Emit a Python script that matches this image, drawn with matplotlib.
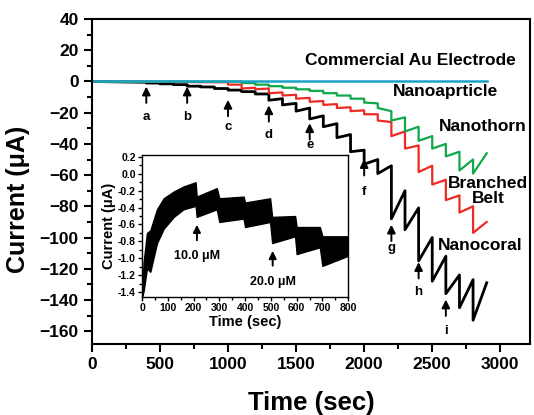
import matplotlib
matplotlib.use('Agg')
import matplotlib.pyplot as plt

plt.rcParams['font.family'] = ['Liberation Sans', 'DejaVu Sans']
plt.rcParams['font.weight'] = 'bold'

# step times (s) with current just before (top) and just after (bottom) each injection, uA
black_t = [400, 500, 600, 700, 800, 900, 1000, 1100, 1200, 1300, 1400, 1500, 1600, 1700,
           1800, 1900, 2000, 2100, 2200, 2300, 2400, 2500, 2600, 2700, 2800]
black_top = [-0.5, -1, -1.5, -2, -3, -3.5, -4.5, -5.5, -6.5, -8, -11, -14, -17, -22,
             -27, -34, -44, -50, -54, -70, -81, -100, -112, -124, -127]
black_bot = [-1, -1.5, -2, -3, -3.5, -4.5, -5.5, -6.5, -8, -12, -15, -19, -24, -29,
             -36, -45, -53, -59, -88, -95, -115, -128, -136, -145, -153]
black_end = -129

red_t = [1000, 1100, 1200, 1300, 1400, 1500, 1600, 1700, 1800, 1900, 2000, 2100,
         2200, 2300, 2400, 2500, 2600, 2700, 2800]
red_top = [-0.5, -2, -4, -4.5, -7, -8.5, -10.5, -12.5, -14.5, -16.5, -18.5, -21,
           -26, -32, -41, -54, -63, -73, -80]
red_bot = [-2, -4.5, -5, -7.5, -9, -11, -13, -15, -17, -19, -21, -25,
           -35, -43, -58, -66, -76, -84, -97]
red_end = -90

green_t = [1100, 1200, 1300, 1400, 1500, 1600, 1700, 1800, 1900, 2000, 2100,
           2200, 2300, 2400, 2500, 2600, 2700, 2800]
green_top = [0, -1, -2, -3, -4, -5, -6, -7.5, -9, -11, -14,
             -19, -23, -29, -35, -40, -45, -50]
green_bot = [-1, -2, -3, -4, -5, -6, -7.5, -9, -11, -13.5, -17,
             -25, -32, -38, -43, -48, -57, -59]
green_end = -46

au_t = [0, 2900]
au_i = [0, 0]
t_end = 2900

arrow_t = [400, 700, 1000, 1300, 1600, 2000, 2200, 2400, 2600]
arrow_tip = [-1.5, -1.5, -10, -13.5, -25, -48, -90, -114, -138]
arrow_lbl = ['a', 'b', 'c', 'd', 'e', 'f', 'g', 'h', 'i']
arrow_lbl_y = [-23, -23, -29, -34, -41, -71, -107, -135, -160]

# inset: envelope of the noisy band
ins_t = [0, 6, 19, 32, 58, 84, 123, 161, 208, 212, 290, 300, 394, 400, 497, 505,
         594, 600, 690, 700, 800]
ins_up = [-1.45, -1.05, -0.70, -0.67, -0.42, -0.29, -0.21, -0.15, -0.10, -0.27, -0.17,
          -0.29, -0.27, -0.34, -0.29, -0.51, -0.50, -0.63, -0.63, -0.74, -0.74]
ins_lo = [-1.45, -1.39, -1.12, -1.16, -0.82, -0.65, -0.51, -0.42, -0.38, -0.51, -0.42,
          -0.57, -0.53, -0.63, -0.57, -0.82, -0.74, -0.95, -0.87, -1.09, -0.97]


def staircase(times, tops, bots, end):
    xs, ys = [0], [0]
    for t, a, b in zip(times, tops, bots):
        xs += [t, t]
        ys += [a, b]
    xs.append(t_end)
    ys.append(end)
    return xs, ys


fig = plt.figure(figsize=(5.34, 4.15), dpi=100)
ax = fig.add_axes([0.172, 0.172, 0.821, 0.782])

x, y = staircase(black_t, black_top, black_bot, black_end)
ax.plot(x, y, color='black', lw=2.0)
x, y = staircase(red_t, red_top, red_bot, red_end)
ax.plot(x, y, color='#ee2a24', lw=1.6)
x, y = staircase(green_t, green_top, green_bot, green_end)
ax.plot(x, y, color='#10a84a', lw=1.6)
ax.plot(au_t, au_i, color='#1aa3c6', lw=1.8)

ax.set_xlim(0, 3220)
ax.set_ylim(-168, 40)
ax.set_xticks(range(0, 3001, 500))
ax.set_xticks(range(0, 3201, 250), minor=True)
ax.set_yticks(range(-160, 41, 20))
ax.set_yticks(range(-160, 41, 10), minor=True)
ax.tick_params(which='both', direction='out', top=False, right=False, width=1.5)
ax.tick_params(which='major', length=6, labelsize=12.5)
ax.tick_params(which='minor', length=3.5)
for s in ax.spines.values():
    s.set_linewidth(1.5)
ax.set_xlabel('Time (sec)', fontsize=18.5, fontweight='bold')
ax.set_ylabel('Current (\u03bcA)', fontsize=18, fontweight='bold')
ax.xaxis.set_label_coords(0.5, -0.145)
ax.yaxis.set_label_coords(-0.14, 0.445)

for t, tip, lbl, ly in zip(arrow_t, arrow_tip, arrow_lbl, arrow_lbl_y):
    ax.annotate('', xy=(t, tip), xytext=(t, tip - 14),
                arrowprops=dict(arrowstyle='-|>', color='black', lw=1.4, mutation_scale=12))
    ax.text(t, ly, lbl, ha='center', va='center', fontsize=9.5, fontweight='bold')

ax.text(2338, 13.5, 'Commercial Au Electrode', ha='center', va='center', fontsize=12.5, fontweight='bold')
ax.text(2596, -6.3, 'Nanoaprticle', ha='center', va='center', fontsize=12.5, fontweight='bold')
ax.text(2868, -28.6, 'Nanothorn', ha='center', va='center', fontsize=12.5, fontweight='bold')
ax.text(2910, -70, 'Branched\nBelt', ha='center', va='center', fontsize=12.5,
        fontweight='bold', linespacing=1.0)
ax.text(2853, -105, 'Nanocoral', ha='center', va='center', fontsize=12.5, fontweight='bold')

# inset
ins = fig.add_axes([0.266, 0.284, 0.386, 0.342])
ins.set_facecolor('white')
ins.fill_between(ins_t, ins_lo, ins_up, color='black', lw=1.0, edgecolor='black')
ins.set_xlim(0, 800)
ins.set_ylim(-1.46, 0.22)
ins.set_xticks(range(0, 801, 100))
ins.set_xticks(range(0, 801, 50), minor=True)
ins.set_yticks([0.2, 0.0, -0.2, -0.4, -0.6, -0.8, -1.0, -1.2, -1.4])
ins.set_yticklabels(['0.2', '0.0', '-0.2', '-0.4', '-0.6', '-0.8', '-1.0', '-1.2', '-1.4'])
ins.set_yticks([0.1, -0.1, -0.3, -0.5, -0.7, -0.9, -1.1, -1.3], minor=True)
ins.tick_params(which='both', direction='out', top=False, right=False, width=1.0)
ins.tick_params(which='major', length=3, labelsize=7.5, pad=1.5)
ins.tick_params(which='minor', length=2)
for s in ins.spines.values():
    s.set_linewidth(1.0)
ins.set_xlabel('Time (sec)', fontsize=10.5, fontweight='bold', labelpad=1)
ins.set_ylabel('Current (\u03bcA)', fontsize=10.5, fontweight='bold', labelpad=1)

ins.annotate('', xy=(213, -0.57), xytext=(213, -0.82),
             arrowprops=dict(arrowstyle='-|>', color='black', lw=1.4, mutation_scale=11))
ins.text(213, -0.97, '10.0 \u03bcM', ha='center', va='center', fontsize=9, fontweight='bold')
ins.annotate('', xy=(507, -0.88), xytext=(507, -1.12),
             arrowprops=dict(arrowstyle='-|>', color='black', lw=1.4, mutation_scale=11))
ins.text(510, -1.28, '20.0 \u03bcM', ha='center', va='center', fontsize=9, fontweight='bold')

fig.savefig('out.png', dpi=100)
